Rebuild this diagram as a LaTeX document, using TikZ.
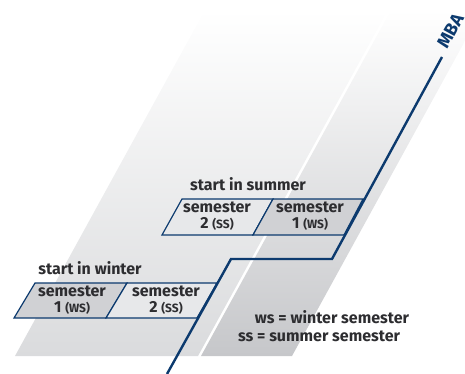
\documentclass[tikz,border=0pt]{standalone}
\usepackage{fontspec}
\setmainfont{Fira Sans}
\definecolor{navy}{RGB}{12,58,110}
\definecolor{txt}{RGB}{45,45,48}
\definecolor{boxdark}{RGB}{208,209,212}
\definecolor{boxlight}{RGB}{231,232,234}
\definecolor{bandA}{RGB}{218,219,221}
\definecolor{bandB}{RGB}{198,199,202}
\begin{document}
\begin{tikzpicture}[x=1pt,y=-1pt,
  lbl/.style={font=\fontsize{16}{16}\selectfont\bfseries, text=txt, align=center, inner sep=0pt},
  semibox/.style={draw=navy, line width=1.2pt, line join=miter},
  bluepath/.style={draw=navy, line width=2.4pt, line join=miter}]
\useasboundingbox (0,0) rectangle (465,374);
% background bands
\shade[top color=white, bottom color=bandA] (15,356) -- (198,356) -- (388,10) -- (205,10) -- cycle;
\shade[top color=white, bottom color=bandB] (201,356) -- (292,356) -- (482,10) -- (391,10) -- cycle;
% winter boxes
\filldraw[semibox, fill=boxdark] (14,318) -- (35,283) -- (127,283) -- (106,318) -- cycle;
\filldraw[semibox, fill=boxlight] (106,318) -- (127,283) -- (217,283) -- (197,318) -- cycle;
% summer boxes
\filldraw[semibox, fill=boxlight] (162,235) -- (182,199) -- (273,199) -- (253,235) -- cycle;
\filldraw[semibox, fill=boxdark] (253,235) -- (273,199) -- (363,199) -- (344,235) -- cycle;
% blue line
\coordinate (b0) at (167,374);
\coordinate (b1) at (231,259);
\coordinate (b2) at (332,259);
\coordinate (b3) at (442,57);
\draw[bluepath] (b0) -- (b1) -- (b2) -- (b3);
\node[font=\fontsize{18}{18}\selectfont\bfseries, text=navy, rotate=61, anchor=base west, inner sep=0pt] (mba) at (447,50) {MBA};
% texts
\node[lbl] (sw) at (90,268) {start in winter};
\node[lbl] (ss) at (248,184) {start in summer};
\node[lbl] (w1) at (72,300) {semester\\1 {\fontsize{12}{12}\selectfont(WS)}};
\node[lbl] (w2) at (166,300) {semester\\2 {\fontsize{12}{12}\selectfont(SS)}};
\node[lbl] (s1) at (217,216) {semester\\2 {\fontsize{12}{12}\selectfont(SS)}};
\node[lbl] (s2) at (310,216) {semester\\1 {\fontsize{12}{12}\selectfont(WS)}};
\node[lbl] (lg1) at (332,317) {ws = winter semester};
\node[lbl] (lg2) at (319,336) {ss = summer semester};
\end{tikzpicture}
\end{document}
